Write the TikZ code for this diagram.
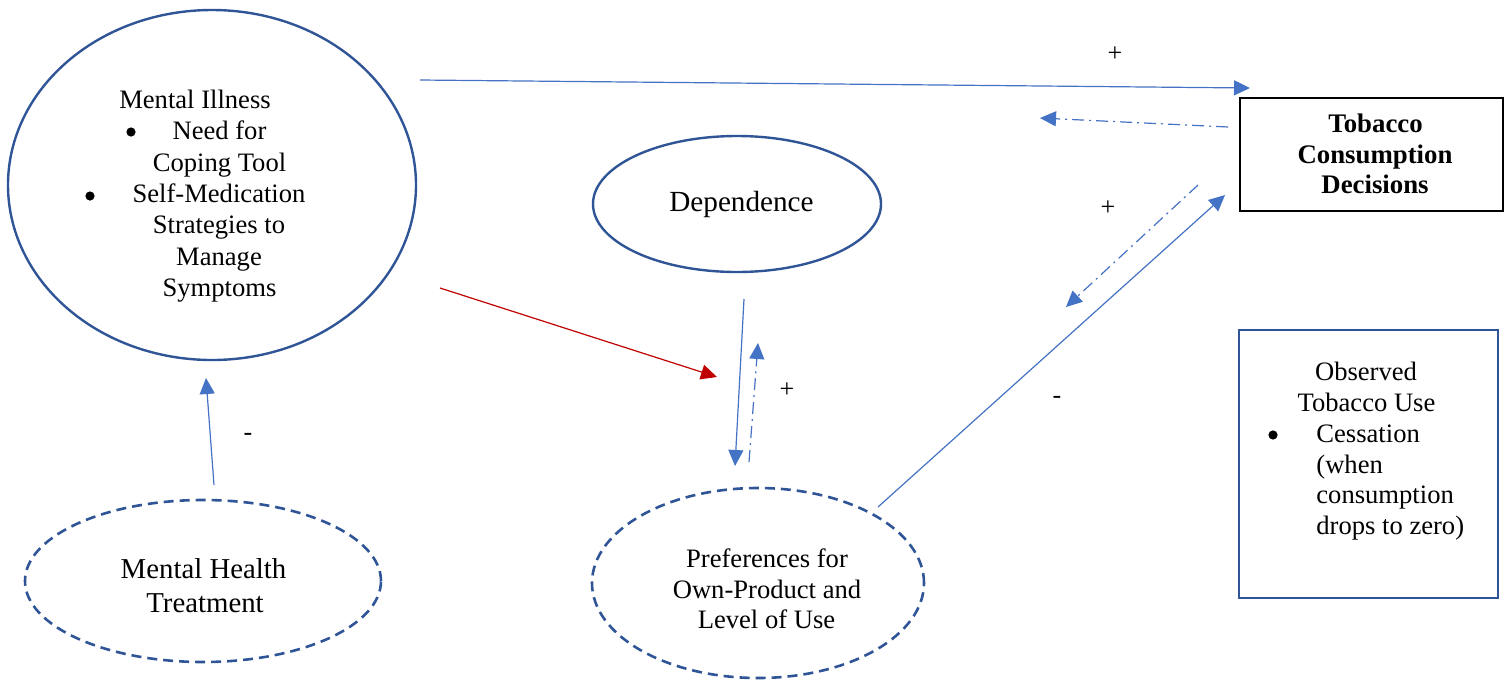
\documentclass[tikz,border=0pt]{standalone}
\usepackage{fontspec}
\setmainfont{Liberation Serif}
\usetikzlibrary{arrows.meta,shapes.geometric}
\definecolor{ellblue}{RGB}{47,85,151}
\definecolor{arrblue}{RGB}{68,114,196}
\definecolor{arrred}{RGB}{192,0,0}
\begin{document}
\begin{tikzpicture}[x=0.5pt,y=-0.5pt,
  solidell/.style={ellipse,draw=ellblue,line width=1.2pt,inner sep=0pt},
  dashell/.style={ellipse,draw=ellblue,line width=1.3pt,dash pattern=on 5pt off 3pt,inner sep=0pt},
  txt/.style={font=\fontsize{13.3}{15.7}\selectfont,inner sep=0pt,anchor=base},
  ltxt/.style={txt,anchor=base west},
  btxt/.style={font=\fontsize{13.4}{15}\selectfont\bfseries,inner sep=0pt,anchor=base},
  conn/.style={draw=arrblue,line width=0.6pt,-{Triangle[length=8pt,width=7.5pt]}},
  dashdot/.style={conn,dash pattern=on 6pt off 2.5pt on 1pt off 2.5pt},
  redconn/.style={conn,draw=arrred},
  sign/.style={font=\fontsize{13}{15}\selectfont,inner sep=0pt},
  bul/.style={circle,fill=black,inner sep=0pt,minimum size=4.6pt}
]
\useasboundingbox (0,0) rectangle (1504,681);

% shapes
\node[solidell,minimum width=204pt,minimum height=175pt] (mi) at (212,185) {};
\node[solidell,minimum width=144pt,minimum height=68pt] (dep) at (737,204) {};
\node[dashell,minimum width=178pt,minimum height=81pt] (mht) at (203,581) {};
\node[dashell,minimum width=166pt,minimum height=95pt] (pref) at (758,583) {};
\node[draw=black,line width=0.6pt,minimum width=131.5pt,minimum height=56.5pt,inner sep=0pt] (tcd) at (1371.5,154.5) {};
\node[draw=ellblue,line width=1pt,minimum width=129.5pt,minimum height=134pt,inner sep=0pt] (obs) at (1368.5,464) {};

% Mental Illness text
\node[txt] (mi1) at (195,108) {Mental Illness};
\node[bul] (mib1) at (131,132) {};
\node[txt] (mi2) at (219.5,139.5) {Need for};
\node[txt] (mi3) at (219.5,171) {Coping Tool};
\node[bul] (mib2) at (90,196) {};
\node[txt] (mi4) at (219,202) {Self-Medication};
\node[txt] (mi5) at (219,233.5) {Strategies to};
\node[txt] (mi6) at (219,265) {Manage};
\node[txt] (mi7) at (219.5,296) {Symptoms};

% Dependence
\node[txt,font=\fontsize{14.6}{17}\selectfont] (dep1) at (741.5,211) {Dependence};

% Mental Health Treatment
\node[txt,font=\fontsize{14.4}{17}\selectfont] (mht1) at (203.5,578) {Mental Health};
\node[txt,font=\fontsize{14.4}{17}\selectfont] (mht2) at (205,612) {Treatment};

% Preferences
\node[txt] (pr1) at (767,567) {Preferences for};
\node[txt] (pr2) at (767,598) {Own-Product and};
\node[txt] (pr3) at (766.5,628) {Level of Use};

% Tobacco Consumption Decisions
\node[btxt] (tc1) at (1375.5,132) {Tobacco};
\node[btxt] (tc2) at (1375,163) {Consumption};
\node[btxt] (tc3) at (1375,193) {Decisions};

% Observed Tobacco Use
\node[txt] (ob1) at (1366,380) {Observed};
\node[txt] (ob2) at (1366.5,411) {Tobacco Use};
\node[bul] (obb) at (1273,435) {};
\node[ltxt] (ob3) at (1316,442) {Cessation};
\node[ltxt] (ob4) at (1316,473) {(when};
\node[ltxt] (ob5) at (1316,503.5) {consumption};
\node[ltxt] (ob6) at (1316,534) {drops to zero)};

% connector end points
\coordinate (a1s) at (420,80);   \coordinate (a1e) at (1250,88);
\coordinate (a2s) at (1228,127); \coordinate (a2e) at (1040,118);
\coordinate (a3s) at (1198,185); \coordinate (a3e) at (1066,307);
\coordinate (a4s) at (878,507);  \coordinate (a4e) at (1225,195);
\coordinate (a5s) at (744,299);  \coordinate (a5e) at (735,466);
\coordinate (a6s) at (749,462);  \coordinate (a6e) at (758,343);
\coordinate (a7s) at (440,288);  \coordinate (a7e) at (717,377);
\coordinate (a8s) at (214,485);  \coordinate (a8e) at (206,378);

\draw[conn] (a1s) -- (a1e);
\draw[dashdot] (a2s) -- (a2e);
\draw[dashdot] (a3s) -- (a3e);
\draw[conn] (a4s) -- (a4e);
\draw[conn] (a5s) -- (a5e);
\draw[dashdot] (a6s) -- (a6e);
\draw[redconn] (a7s) -- (a7e);
\draw[conn] (a8s) -- (a8e);

% signs
\node[sign] (s1) at (1115,54) {+};
\node[sign] (s2) at (1108,208) {+};
\node[sign] (s3) at (787,390) {+};
\node[sign] (s4) at (1057,400) {-};
\node[sign] (s5) at (248,437) {-};
\end{tikzpicture}
\end{document}
